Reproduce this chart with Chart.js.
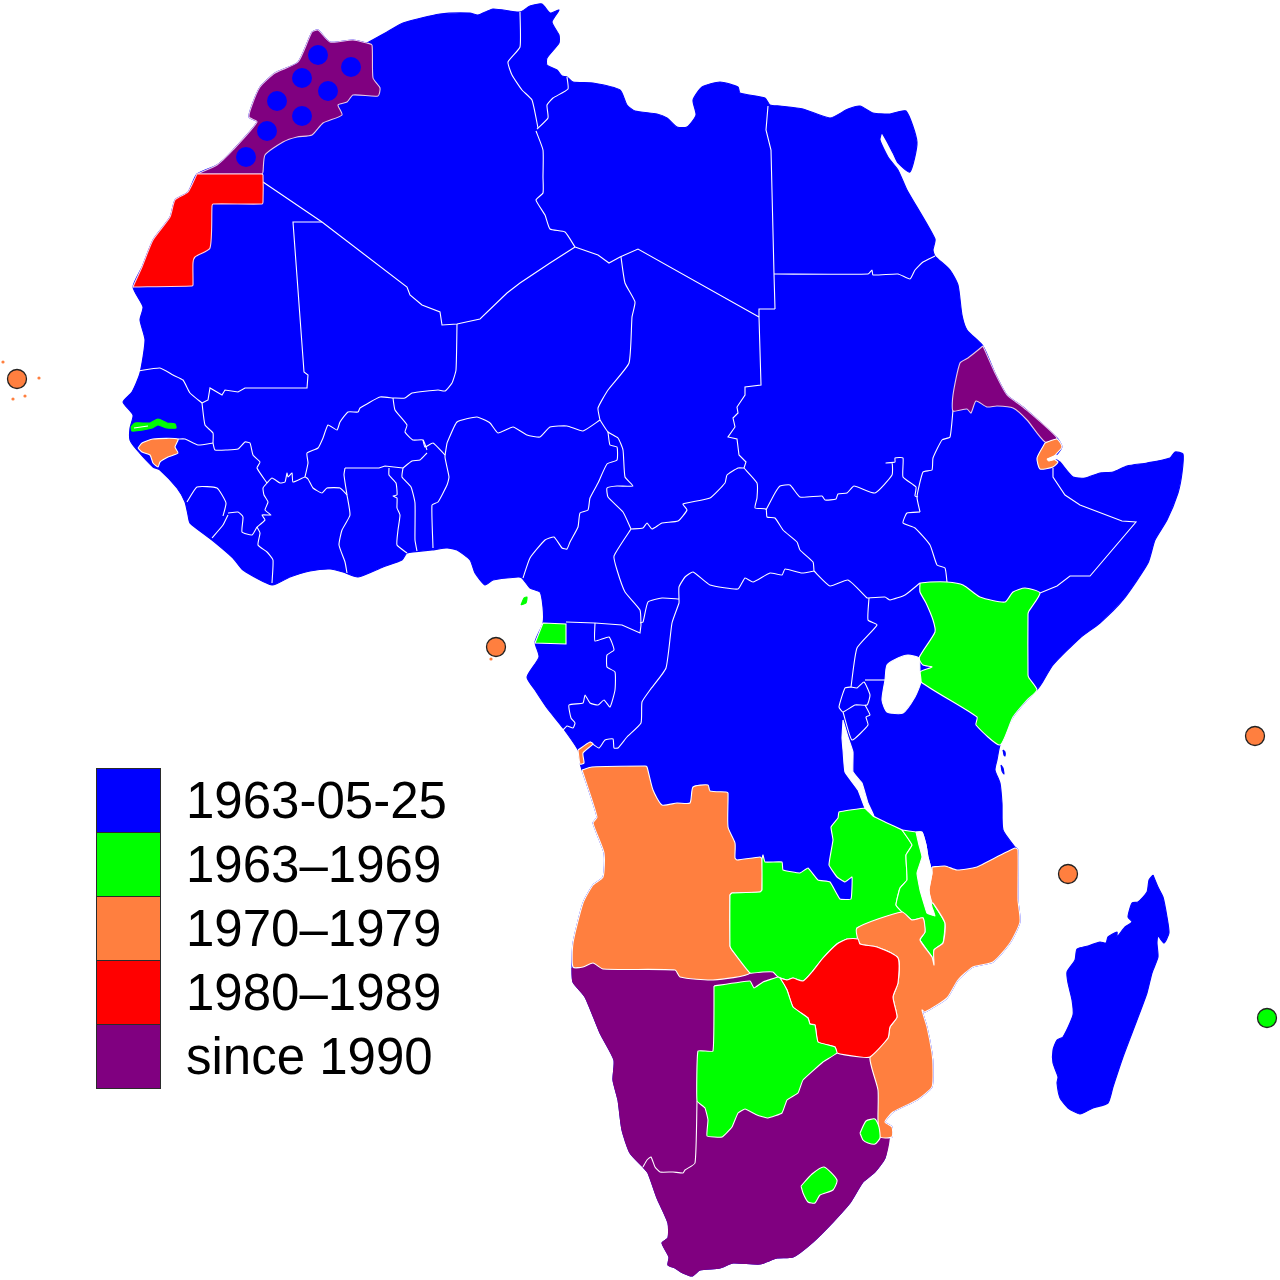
<!DOCTYPE html>
<html>
<head>
<meta charset="utf-8">
<title>African Union membership</title>
<script src="https://cdn.jsdelivr.net/npm/chart.js@4/dist/chart.umd.js"></script>
<style>
  html, body { margin: 0; padding: 0; background: #fff; }
  #wrap { position: relative; width: 1280px; height: 1280px; overflow: hidden; }
  canvas { display: block; }
  #legend { position: absolute; left: 96px; top: 768px; }
  .row { position: relative; height: 64px; font: 51px/66px "Liberation Sans", Arial, sans-serif; color: #000; white-space: nowrap; }
  .swatch { position: absolute; left: 0; top: 0; width: 63px; height: 63px; border: 1px solid #2b2b2b; box-sizing: content-box; }
  .label { position: absolute; left: 90px; top: 0; }
</style>
</head>
<body>
<div id="wrap">
  <canvas id="map" width="1280" height="1280"></canvas>
  <div id="legend"></div>
</div>
<script>
const legendLabels = ["1963-05-25", "1963–1969", "1970–1979", "1980–1989", "since 1990"];
const legendColors = ["#0000ff", "#00ff00", "#ff7f3f", "#ff0000", "#800080"];

// outlines, [x, y] in picture pixels
const continent = [[367,43],[387,32],[403,23],[440,14],[470,13],[478,15],[493,9],[520,12],[530,6],[542,4],[550,13],[559,10],[552,22],[559,35],[559,43],[547,58],[547,65],[557,70],[562,76],[567,77],[573,82],[593,83],[620,90],[627,105],[635,111],[657,114],[667,118],[677,127],[687,127],[696,115],[693,100],[702,87],[720,82],[738,87],[740,93],[765,98],[770,105],[780,106],[803,109],[830,118],[848,109],[860,106],[873,113],[890,114],[906,111],[917,142],[910,172],[898,163],[893,153],[882,133],[880,140],[888,157],[898,170],[907,190],[935,239],[933,250],[935,256],[950,270],[958,285],[962,315],[967,330],[983,346],[995,373],[1007,395],[1023,407],[1057,438],[1062,447],[1055,458],[1060,462],[1073,477],[1085,478],[1100,473],[1113,472],[1127,466],[1147,463],[1170,458],[1175,452],[1183,454],[1182,473],[1178,493],[1167,520],[1155,540],[1148,563],[1123,600],[1100,623],[1080,638],[1053,665],[1042,683],[1037,690],[1027,700],[1013,717],[1000,745],[997,760],[995,770],[1000,783],[1002,803],[1003,830],[1015,847],[1018,850],[1018,900],[1020,922],[1010,943],[993,962],[973,967],[958,980],[947,998],[925,1012],[922,1010],[927,1027],[932,1053],[933,1067],[932,1087],[917,1100],[893,1112],[885,1122],[892,1127],[892,1137],[889,1138],[885,1158],[875,1172],[863,1182],[850,1203],[833,1222],[813,1242],[793,1257],[777,1258],[760,1264],[733,1263],[720,1268],[700,1270],[692,1276],[683,1273],[675,1268],[668,1265],[669,1257],[662,1243],[668,1238],[668,1223],[657,1198],[648,1173],[643,1167],[630,1153],[622,1130],[618,1100],[613,1080],[614,1060],[600,1033],[585,997],[573,982],[572,968],[573,943],[583,903],[593,885],[603,877],[604,853],[593,823],[597,817],[582,770],[580,763],[578,750],[563,728],[547,708],[535,690],[527,677],[539,657],[535,642],[543,623],[543,607],[540,592],[530,588],[522,578],[518,577],[493,580],[485,585],[475,573],[470,560],[457,550],[447,548],[432,550],[407,553],[402,560],[383,567],[358,577],[343,572],[330,569],[310,571],[290,577],[272,585],[243,570],[233,558],[212,540],[190,523],[188,515],[185,502],[177,488],[160,470],[153,467],[137,450],[130,440],[130,428],[133,415],[123,402],[132,392],[140,373],[145,340],[140,320],[143,307],[133,287],[142,267],[153,240],[170,217],[175,200],[188,192],[197,174],[217,165],[233,150],[257,122],[249,117],[252,105],[260,87],[275,73],[298,62],[312,32],[318,30],[330,42],[353,40]];
const madagascar = [[1153,875],[1158,887],[1163,897],[1167,917],[1169,933],[1164,943],[1158,936],[1157,943],[1158,957],[1152,973],[1147,993],[1137,1020],[1123,1057],[1113,1087],[1108,1103],[1093,1108],[1080,1114],[1068,1108],[1060,1098],[1057,1083],[1058,1077],[1053,1063],[1053,1050],[1057,1040],[1063,1037],[1073,1015],[1072,1000],[1068,983],[1067,972],[1075,960],[1077,949],[1088,946],[1100,942],[1106,943],[1108,937],[1117,932],[1117,937],[1125,927],[1132,922],[1128,917],[1132,903],[1138,902],[1147,892],[1149,880]];
const zanzibar = [[1003,750],[1005,752],[1005,756],[1004,755]];
const pemba = [[1001,765],[1003,768],[1004,774],[1002,771]];

const morocco = [[367,43],[372,45],[373,78],[380,88],[378,96],[353,95],[347,102],[338,105],[342,115],[323,123],[312,135],[297,137],[283,142],[265,155],[263,172],[262,174],[198,174],[197,174],[217,165],[233,150],[257,122],[249,117],[252,105],[260,87],[275,73],[298,62],[312,32],[318,30],[330,42],[353,40]];
const westernSahara = [[262,174],[263,175],[263,202],[262,204],[213,204],[212,206],[210,248],[195,257],[193,263],[193,285],[192,286],[134,287],[133,287],[142,267],[153,240],[170,217],[175,200],[188,192],[197,174],[198,174]];
const gambia = [[131,427],[135,423],[150,423],[158,419],[167,423],[175,424],[176,428],[167,428],[158,425],[152,428],[143,430],[132,431]];
const gambiaRiver = [[134,428],[148,426]];
const guineaBissau = [[138,448],[142,443],[153,439],[178,439],[175,447],[178,453],[168,457],[160,462],[158,467],[153,463],[150,455],[142,452]];
const eqGuinea = [[543,623],[566,624],[566,644],[535,643]];
const bioko = [[521,605],[524,598],[527,597],[526,603]];
const cabinda = [[578,750],[590,742],[593,744],[583,753],[584,763],[580,764]];
const eritrea = [[983,346],[995,373],[1007,395],[1023,407],[1057,438],[1045,442],[1027,420],[1013,408],[997,406],[987,407],[976,401],[971,413],[967,409],[953,411],[953,395],[960,363],[968,358]];
const djibouti = [[1045,443],[1057,439],[1062,447],[1053,458],[1058,462],[1053,467],[1040,469],[1037,458]];
const kenya = [[920,583],[930,582],[947,582],[963,585],[980,597],[1005,602],[1013,592],[1025,588],[1040,593],[1029,611],[1028,614],[1028,675],[1029,678],[1037,690],[1027,700],[1013,717],[1000,745],[976,725],[977,717],[921,682],[920,672],[932,667],[923,665],[919,658],[935,632],[933,620],[926,603],[920,592]];
const angola = [[582,770],[592,767],[645,766],[647,767],[653,790],[662,805],[677,803],[690,803],[693,787],[708,785],[710,791],[726,792],[728,793],[728,827],[735,843],[735,858],[737,860],[760,857],[762,859],[762,890],[760,892],[732,893],[730,895],[730,946],[732,950],[750,973],[713,980],[680,977],[675,970],[603,969],[593,963],[583,967],[573,967],[573,943],[583,903],[593,885],[603,877],[604,853],[593,823],[597,817]];
const zambia = [[865,808],[839,812],[838,818],[831,827],[833,840],[829,865],[837,877],[845,882],[852,877],[851,899],[840,899],[830,882],[818,880],[808,868],[800,873],[783,870],[782,862],[765,862],[763,855],[762,859],[762,890],[760,892],[732,893],[730,895],[730,946],[732,950],[750,973],[763,972],[773,972],[778,977],[787,980],[793,978],[803,981],[812,972],[823,958],[837,944],[847,939],[858,938],[857,928],[902,912],[896,905],[900,888],[907,880],[906,855],[912,845],[902,830],[885,822],[873,816]];
const malawi = [[902,830],[916,832],[922,832],[926,845],[928,857],[932,873],[929,890],[932,903],[933,903],[945,923],[943,943],[934,950],[934,965],[932,966],[932,957],[920,940],[925,932],[923,918],[912,920],[902,912],[896,905],[900,888],[907,880],[906,855],[912,845]];
const mozambique = [[932,867],[945,866],[957,870],[977,867],[987,862],[1015,848],[1018,850],[1018,900],[1020,922],[1010,943],[993,962],[973,967],[958,980],[947,998],[925,1012],[922,1010],[927,1027],[932,1053],[933,1067],[932,1087],[917,1100],[893,1112],[885,1122],[892,1127],[892,1137],[880,1137],[878,1120],[878,1090],[870,1057],[888,1038],[890,1027],[897,1017],[893,997],[898,983],[898,958],[877,947],[860,944],[857,928],[902,912],[912,920],[923,918],[925,932],[920,940],[932,957],[934,965],[934,950],[943,943],[945,923],[933,903],[932,903],[929,890],[932,873]];
const zimbabwe = [[780,978],[787,980],[793,978],[803,981],[812,972],[823,958],[837,944],[847,939],[858,939],[860,944],[877,947],[898,958],[898,983],[893,997],[897,1017],[890,1027],[888,1038],[870,1057],[860,1057],[837,1053],[835,1047],[818,1042],[815,1025],[810,1024],[808,1018],[793,1007],[787,990]];
const botswana = [[714,986],[750,981],[754,988],[763,982],[778,977],[780,978],[787,990],[793,1007],[808,1018],[810,1024],[815,1025],[818,1042],[835,1047],[837,1053],[823,1062],[803,1080],[798,1093],[787,1100],[782,1113],[768,1118],[757,1115],[745,1109],[738,1113],[732,1127],[722,1137],[707,1136],[708,1120],[705,1108],[697,1101],[698,1051],[713,1051]];
const namibiaAndSouthAfrica = [[572,968],[583,967],[593,963],[603,969],[675,970],[680,977],[713,980],[750,973],[763,972],[773,972],[778,977],[837,1053],[860,1057],[870,1057],[878,1090],[878,1120],[880,1137],[889,1138],[885,1158],[875,1172],[863,1182],[850,1203],[833,1222],[813,1242],[793,1257],[777,1258],[760,1264],[733,1263],[720,1268],[700,1270],[692,1276],[683,1273],[675,1268],[668,1265],[669,1257],[662,1243],[668,1238],[668,1223],[657,1198],[648,1173],[643,1167],[630,1153],[622,1130],[618,1100],[613,1080],[614,1060],[600,1033],[585,997],[573,982]];
const eswatini = [[860,1133],[866,1121],[875,1119],[879,1127],[880,1138],[875,1144],[868,1143],[863,1140]];
const lesotho = [[801,1186],[812,1174],[824,1167],[837,1180],[833,1190],[820,1195],[815,1203],[808,1202],[803,1193]];

const lakeVictoria = [[885,680],[887,665],[898,658],[908,655],[919,658],[920,672],[921,682],[915,697],[903,713],[887,712],[882,700]];
const lakeTanganyika = [[843,720],[848,737],[853,752],[853,772],[862,783],[868,803],[874,816],[865,808],[858,790],[845,772],[843,750],[842,738]];
const lakeMalawi = [[916,832],[922,832],[926,845],[928,857],[932,873],[929,890],[932,907],[935,916],[927,913],[925,907],[920,890],[917,873],[922,857],[919,845]];
const gulfOfTadjoura = [[1047,459],[1057,455],[1058,458],[1049,461]];

// white borders between the blue countries
const algeriaSouth = [[263,182],[322,222],[407,287],[410,295],[422,305],[440,312],[442,325],[457,324],[480,319],[507,293],[520,283],[550,263],[575,247]];
const tunisiaWest = [[520,12],[520,47],[508,62],[512,75],[522,90],[532,100],[538,128]];
const tunisiaLibya = [[567,77],[568,89],[553,98],[547,105],[548,118],[537,129]];
const algeriaLibya = [[536,131],[543,150],[543,177],[543,193],[536,200],[545,215],[550,229],[565,232],[575,247]];
const nigerLibya = [[575,247],[598,255],[609,263],[620,257],[638,249],[759,317]];
const libyaSudan = [[759,317],[759,309],[775,309]];
const libyaEgypt = [[768,106],[766,130],[771,150],[774,274],[775,309]];
const egyptSudan = [[774,274],[868,274],[872,270],[873,275],[898,274],[910,279],[915,270],[923,262],[935,256]];
const chadSudan = [[759,317],[761,385],[745,387],[745,395],[737,407],[738,413],[733,418],[735,427],[728,437],[737,439],[739,455],[746,462],[744,468]];
const chadCar = [[744,468],[738,468],[727,475],[725,483],[710,498],[683,504],[687,510],[678,521],[662,523],[652,529],[647,523],[643,528],[631,529]];
const carSudan = [[744,468],[757,483],[757,498],[755,508],[766,509],[767,517],[775,518],[783,530],[797,542],[800,550],[813,562],[814,571]];
const carDrc = [[814,571],[802,573],[785,569],[782,575],[770,573],[753,582],[745,578],[738,589],[710,585],[693,572],[685,577],[679,587],[679,599]];
const carCongo = [[679,599],[662,598],[648,602],[643,622],[640,623]];
const carCameroon = [[631,529],[614,556],[617,570],[625,592],[640,610],[641,625]];
const chadCameroon = [[631,529],[623,512],[608,497],[607,488],[617,486],[633,486],[625,477],[623,450],[618,438],[608,432],[600,420]];
const nigerChad = [[621,257],[625,283],[635,302],[632,317],[629,363],[608,390],[598,408],[600,420]];
const nigeriaNiger = [[600,420],[583,431],[567,426],[550,427],[540,437],[527,435],[513,427],[498,433],[490,423],[477,417],[457,422],[447,443]];
const cameroonNigeria = [[608,432],[610,445],[617,447],[617,460],[607,464],[598,483],[590,498],[588,510],[580,513],[578,527],[570,542],[567,549],[562,548],[554,537],[545,540],[530,558],[523,578]];
const beninNigeria = [[447,443],[445,457],[449,477],[447,485],[438,502],[432,505],[433,548]];
const beninNiger = [[445,455],[433,443],[425,447],[423,440]];
const nigerBurkina = [[393,398],[395,410],[407,425],[405,432],[413,440],[423,440],[427,450]];
const burkinaBenin = [[427,453],[420,460],[412,461],[403,468]];
const ghanaNorth = [[345,468],[379,468],[385,466],[403,468]];
const beninTogo = [[403,468],[402,477],[411,487],[415,503],[415,540],[417,551]];
const ghanaTogo = [[389,468],[389,475],[396,483],[397,495],[393,496],[397,498],[397,508],[400,515],[398,530],[397,545],[407,553]];
const ghanaIvory = [[345,468],[344,475],[347,495],[350,515],[342,530],[339,545],[345,562],[347,573]];
const ivoryBurkina = [[347,495],[340,488],[327,488],[322,493],[313,488],[308,479],[305,477],[293,482],[292,473],[288,477],[287,473],[285,482],[280,483],[272,478],[267,483]];
const maliBurkina = [[305,477],[308,463],[307,453],[318,448],[323,438],[328,425],[337,430],[340,422],[348,412],[358,412],[360,408],[380,397],[393,398]];
const maliNiger = [[393,398],[405,398],[412,393],[438,390],[445,391],[452,383],[456,370],[457,324]];
const maliIvory = [[267,483],[263,488],[264,495],[268,502],[265,510],[271,515],[262,515],[265,520],[257,527]];
const ivoryGuinea = [[257,527],[252,535],[242,532],[243,517],[238,512],[228,513]];
const ivoryLiberia = [[257,527],[260,533],[258,545],[267,552],[273,560],[272,583]];
const liberiaSierraLeone = [[228,515],[223,525],[212,538]];
const sierraLeoneGuinea = [[223,516],[226,503],[217,488],[197,487],[187,502]];
const maliGuinea = [[267,483],[257,468],[260,462],[253,455],[250,443],[245,442],[238,449],[227,450],[215,450],[213,443]];
const maliSenegal = [[213,443],[213,433],[205,425],[202,403]];
const maliMauritania = [[202,403],[208,400],[210,388],[222,395],[225,390],[238,392],[245,388],[307,388],[308,375],[304,372],[293,222],[322,222]];
const senegalMauritania = [[138,371],[160,368],[173,375],[183,380],[190,393],[202,403]];
const senegalGuinea = [[213,443],[198,445],[185,439],[178,439]];
const cameroonSouth = [[566,622],[595,623],[622,625],[640,633],[641,625]];
const gabonCongo = [[595,623],[595,641],[609,637],[614,650],[607,655],[607,667],[615,672],[615,690],[610,707],[604,700],[598,705],[590,703],[585,695],[583,703],[569,705],[571,718],[575,723],[573,728],[567,726],[563,730]];
const congoDrc = [[679,599],[679,603],[672,623],[666,668],[650,690],[642,702],[641,723],[627,737],[618,748],[614,748],[613,739],[605,740],[599,748],[590,742]];
const drcSouthSudan = [[814,571],[830,586],[848,580],[867,598]];
const ugandaSouthSudan = [[867,598],[885,597],[890,600],[905,595],[920,583]];
const ugandaDrc = [[869,598],[868,620],[877,625],[857,648],[851,687]];
const ugandaTanzania = [[865,680],[885,680]];
const rwanda = [[851,687],[845,688],[839,707],[843,712],[855,705],[867,705],[870,695],[864,682],[857,688],[851,687]];
const burundi = [[843,712],[852,740],[868,725],[866,717],[870,715],[865,705]];
const southSudanSudan = [[766,510],[775,493],[780,486],[790,485],[800,497],[822,496],[825,500],[836,499],[838,494],[847,493],[854,486],[875,493],[892,475],[892,463],[886,463],[895,462],[895,458],[903,458],[903,477],[916,487],[915,496],[918,497]];
const southSudanEthiopia = [[920,512],[907,513],[903,523],[915,528],[930,545],[937,565],[945,568],[947,582]];
const sudanEthiopia = [[953,410],[950,437],[942,440],[933,458],[932,470],[923,472],[917,497],[920,512]];
const ethiopiaSomalia = [[1053,468],[1053,477],[1065,495],[1080,505],[1122,521],[1136,522],[1090,576],[1070,576],[1057,586],[1040,593]];
const namibiaSouthAfrica = [[697,1101],[695,1163],[685,1170],[683,1173],[673,1172],[660,1172],[655,1167],[651,1157],[647,1160],[643,1167]];

const moroccoDots = [[318,55],[351,67],[302,78],[328,91],[277,101],[302,116],[267,131],[246,157]];
const orangeIslands = [[17,379],[496,647],[1255,736],[1068,874]];
const greenIslands = [[1267,1018]];
const capeVerdeSpecks = [[3,362],[39,378],[25,396],[13,399],[491,659]];

const [BLUE, GREEN, ORANGE, RED, PURPLE] = legendColors;

function closeRing(points) {
  return points.concat([points[0]]);
}

function shape(points, color, outline, tension = 0.2) {
  return {
    data: closeRing(points),
    showLine: true,
    fill: "shape",
    backgroundColor: color,
    borderColor: outline || color,
    borderWidth: 1.1,
    pointRadius: 0,
    tension
  };
}

function border(points, tension = 0.15) {
  return { data: points, showLine: true, fill: false, borderColor: "#ffffff", borderWidth: 1.1, pointRadius: 0, tension };
}

function dots(points, color, radius, edge) {
  return { data: points, showLine: false, backgroundColor: color, borderColor: edge || color, borderWidth: edge ? 1.3 : 0, pointRadius: radius };
}

const straightBorders = [algeriaSouth, nigerLibya, libyaSudan, libyaEgypt, chadSudan, ghanaNorth, maliMauritania, ugandaTanzania, ethiopiaSomalia, cameroonSouth];
const curvyBorders = [tunisiaWest, tunisiaLibya, algeriaLibya, egyptSudan, chadCar, carSudan, carDrc, carCongo, carCameroon, chadCameroon, nigerChad, nigeriaNiger, cameroonNigeria, beninNigeria, beninNiger, nigerBurkina, burkinaBenin, beninTogo, ghanaTogo, ghanaIvory, ivoryBurkina, maliBurkina, maliNiger, maliIvory, ivoryGuinea, ivoryLiberia, liberiaSierraLeone, sierraLeoneGuinea, maliGuinea, maliSenegal, senegalMauritania, senegalGuinea, gabonCongo, congoDrc, drcSouthSudan, ugandaSouthSudan, ugandaDrc, rwanda, burundi, southSudanSudan, southSudanEthiopia, sudanEthiopia];

// listed bottom to top
const layers = [
  shape(continent, BLUE),
  shape(madagascar, BLUE),
  shape(zanzibar, BLUE),
  shape(pemba, BLUE),
  ...straightBorders.map((line) => border(line, 0)),
  ...curvyBorders.map((line) => border(line)),
  shape(namibiaAndSouthAfrica, PURPLE),
  border(namibiaSouthAfrica),
  shape(morocco, PURPLE, "#e8c8e8"),
  shape(westernSahara, RED, "#ffd0e0"),
  shape(gambia, GREEN),
  border(gambiaRiver),
  shape(guineaBissau, ORANGE, "#ffffff"),
  shape(eqGuinea, GREEN, "#ffffff", 0),
  shape(bioko, GREEN),
  shape(cabinda, ORANGE, "#ffffff"),
  shape(eritrea, PURPLE, "#e8c8e8"),
  shape(djibouti, ORANGE, "#ffffff"),
  shape(gulfOfTadjoura, "#ffffff"),
  shape(kenya, GREEN, "#ffffff"),
  shape(angola, ORANGE, "#ffffff"),
  shape(zambia, GREEN, "#ffffff", 0.1),
  shape(malawi, GREEN, "#ffffff", 0.1),
  shape(mozambique, ORANGE, "#ffffff"),
  shape(zimbabwe, RED, "#ffffff"),
  shape(botswana, GREEN, "#ffffff", 0.1),
  shape(eswatini, GREEN, "#ffffff"),
  shape(lesotho, GREEN, "#ffffff"),
  shape(lakeVictoria, "#ffffff"),
  shape(lakeTanganyika, "#ffffff", null, 0.1),
  shape(lakeMalawi, "#ffffff", null, 0.1),
  dots(moroccoDots, BLUE, 10),
  dots(capeVerdeSpecks, ORANGE, 1.6),
  dots(orangeIslands, ORANGE, 9.5, "#222222"),
  dots(greenIslands, GREEN, 9.5, "#222222")
];

new Chart(document.getElementById("map"), {
  type: "scatter",
  data: { datasets: layers.map((layer, i) => ({ ...layer, order: layers.length - i, clip: false })) },
  options: {
    responsive: false,
    animation: false,
    devicePixelRatio: 1,
    layout: { padding: 0, autoPadding: false },
    plugins: { legend: { display: false }, tooltip: { enabled: false } },
    scales: {
      x: { type: "linear", min: 0, max: 1280, display: false },
      y: { type: "linear", min: 0, max: 1280, reverse: true, display: false }
    }
  }
});

const legend = document.getElementById("legend");
legendLabels.forEach((label, i) => {
  const row = document.createElement("div");
  row.className = "row";
  row.innerHTML = `<div class="swatch" style="background:${legendColors[i]}"></div><div class="label">${label}</div>`;
  legend.appendChild(row);
});
</script>
</body>
</html>
